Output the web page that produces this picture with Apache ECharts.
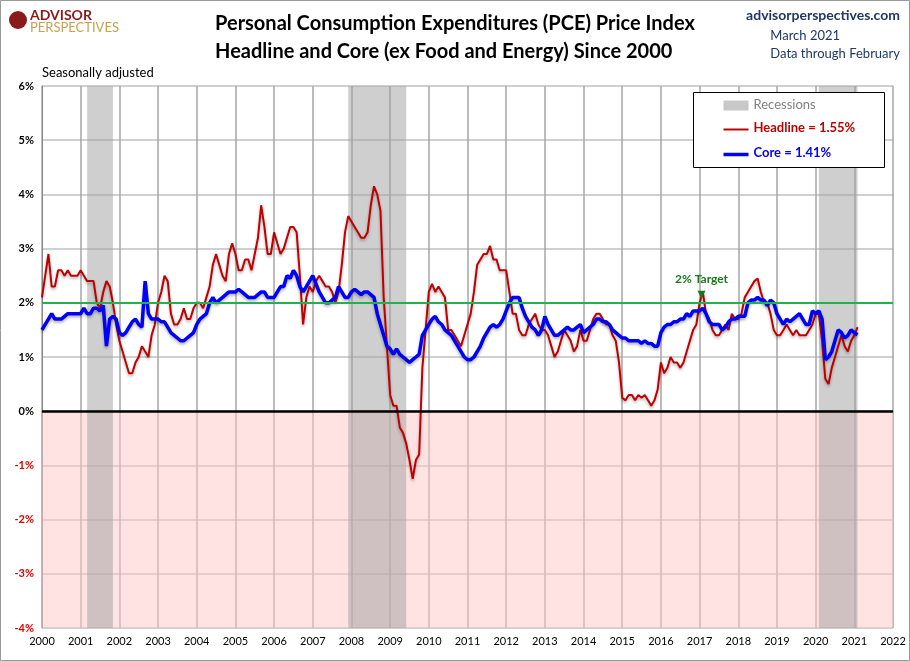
<!DOCTYPE html>
<html><head><meta charset="utf-8">
<script src="https://cdn.jsdelivr.net/npm/echarts@6/dist/echarts.min.js"></script>
<style>html,body{margin:0;padding:0;background:#fff}#c{width:910px;height:661px}</style>
</head><body><div id="c"></div>
<script>
const startYear = 2000;
const headline = [
2.1,2.5,2.9,2.3,2.3,2.6,2.6,2.5,2.6,2.5,2.5,2.5,
2.6,2.5,2.4,2.4,2.4,2.0,1.9,2.2,2.4,2.3,2.0,1.6,
1.3,1.1,0.9,0.7,0.7,0.9,1.0,1.2,1.1,1.0,1.4,1.6,
2.0,2.2,2.5,2.4,1.8,1.6,1.6,1.7,1.9,1.7,1.7,1.9,
2.0,2.0,1.9,2.1,2.3,2.7,2.9,2.7,2.5,2.4,2.9,3.1,
2.9,2.6,2.6,2.8,2.8,2.6,2.9,3.2,3.8,3.4,2.9,2.9,
3.3,3.1,2.9,3.0,3.2,3.4,3.4,3.3,2.5,1.6,2.1,2.3,
2.2,2.4,2.5,2.4,2.3,2.3,2.2,2.0,2.2,2.7,3.3,3.6,
3.5,3.4,3.3,3.2,3.2,3.3,3.8,4.15,4.0,3.7,2.1,1.2,
0.3,0.1,0.1,-0.3,-0.4,-0.6,-0.9,-1.25,-0.9,-0.8,0.8,1.5,
2.2,2.35,2.2,2.3,2.2,2.1,1.5,1.5,1.4,1.3,1.2,1.4,
1.6,1.8,2.2,2.7,2.8,2.9,2.9,3.05,2.8,2.8,2.6,2.6,
2.6,2.2,1.8,1.8,1.5,1.4,1.4,1.6,1.7,1.8,1.6,1.5,
1.5,1.4,1.2,1.0,1.1,1.3,1.5,1.4,1.3,1.1,1.2,1.5,
1.3,1.3,1.5,1.7,1.8,1.8,1.7,1.6,1.6,1.4,1.3,0.9,
0.25,0.2,0.3,0.3,0.2,0.3,0.25,0.3,0.2,0.1,0.2,0.4,
0.9,0.7,0.8,1.0,0.9,0.9,0.8,0.9,1.1,1.3,1.5,1.6,
2.0,2.2,1.8,1.7,1.5,1.4,1.4,1.5,1.6,1.5,1.8,1.7,
1.7,1.8,2.1,2.2,2.3,2.4,2.45,2.2,2.0,2.0,1.8,1.5,
1.4,1.4,1.5,1.6,1.5,1.4,1.5,1.4,1.4,1.4,1.5,1.6,
1.8,1.8,1.3,0.6,0.5,0.8,1.0,1.2,1.4,1.2,1.1,1.3,
1.4,1.55];
const core = [
1.5,1.6,1.7,1.8,1.7,1.7,1.7,1.75,1.8,1.8,1.8,1.8,
1.8,1.9,1.8,1.8,1.9,1.9,1.85,1.95,1.2,1.7,1.75,1.7,
1.45,1.4,1.45,1.55,1.65,1.7,1.6,1.55,2.4,1.8,1.7,1.7,
1.7,1.65,1.65,1.55,1.45,1.4,1.35,1.3,1.3,1.35,1.4,1.45,
1.6,1.7,1.75,1.8,2.0,2.1,2.0,2.05,2.1,2.15,2.2,2.2,
2.2,2.25,2.2,2.15,2.1,2.1,2.1,2.15,2.2,2.2,2.1,2.1,
2.1,2.2,2.3,2.3,2.5,2.45,2.6,2.5,2.3,2.2,2.3,2.4,
2.5,2.35,2.2,2.1,2.0,2.0,2.05,2.1,2.3,2.2,2.1,2.1,
2.2,2.25,2.2,2.15,2.2,2.2,2.15,2.1,1.8,1.6,1.4,1.2,
1.15,1.05,1.15,1.05,1.0,0.95,0.9,0.95,1.0,1.05,1.4,1.5,
1.6,1.7,1.75,1.65,1.6,1.5,1.45,1.4,1.3,1.2,1.1,1.0,
0.95,0.95,1.0,1.1,1.2,1.35,1.45,1.55,1.6,1.55,1.6,1.7,
1.85,2.0,2.1,2.1,2.1,1.9,1.75,1.65,1.55,1.5,1.4,1.5,
1.75,1.6,1.5,1.4,1.4,1.45,1.5,1.55,1.5,1.5,1.55,1.6,
1.45,1.5,1.55,1.6,1.7,1.7,1.65,1.65,1.6,1.5,1.45,1.4,
1.35,1.35,1.3,1.3,1.3,1.3,1.25,1.3,1.25,1.25,1.2,1.2,
1.45,1.55,1.6,1.6,1.65,1.65,1.7,1.7,1.8,1.75,1.85,1.85,
1.85,1.9,1.8,1.65,1.6,1.6,1.6,1.5,1.55,1.65,1.7,1.7,
1.75,1.75,1.75,2.0,2.05,2.05,2.1,2.05,2.05,1.95,2.05,2.0,
1.8,1.7,1.6,1.7,1.65,1.7,1.75,1.8,1.7,1.6,1.6,1.85,
1.8,1.85,1.7,0.95,1.0,1.1,1.3,1.5,1.45,1.35,1.4,1.5,
1.45,1.41];
const recessions = [['2001-03','2001-11'],['2007-12','2009-06'],['2020-02','2021-02']];

function toX(i){ return startYear + i/12; }
function ym(s){ const [y,m]=s.split('-').map(Number); return y+(m-1)/12; }
const hData = headline.map((v,i)=>[toX(i),v]);
const cData = core.map((v,i)=>[toX(i),v]);

const chart = echarts.init(document.getElementById('c'));
const F = 'Lato, "Open Sans", Arial, sans-serif';
chart.setOption({
  animation:false,
  grid:{left:42,right:17,top:86,bottom:33},
  xAxis:{type:'value',min:2000,max:2022,interval:1,
    axisLabel:{color:'#000',fontSize:11,fontFamily:F,formatter:v=>String(v)},
    axisLine:{lineStyle:{color:'#888'}},axisTick:{show:false},
    splitLine:{show:true,lineStyle:{color:'#a6a6a6',width:1.5}}},
  yAxis:{type:'value',min:-4,max:6,interval:1,
    axisLabel:{fontSize:11,fontWeight:'bold',fontFamily:F,formatter:v=>v+'%',
      color:v=>v<0?'#e00000':'#000'},
    axisLine:{show:true,lineStyle:{color:'#888'}},axisTick:{show:false},
    splitLine:{lineStyle:{color:'#c0c0c0',width:1.5}}},
  series:[
    {type:'line',name:'bg',data:[],silent:true,
      markArea:{silent:true,data:[
        [{yAxis:-4,itemStyle:{color:'rgba(255,200,200,0.5)'}},{yAxis:0}],
        ...recessions.map(r=>[{xAxis:ym(r[0]),itemStyle:{color:'rgba(160,160,160,0.5)'}},{xAxis:ym(r[1])}])
      ]},
      markLine:{silent:true,symbol:'none',label:{show:false},data:[
        {yAxis:0,lineStyle:{color:'#000',width:2.5,type:'solid'}},
        {yAxis:2,lineStyle:{color:'#22b14c',width:2,type:'solid'}}
      ]}},
    {type:'line',name:'Headline',data:hData,showSymbol:false,z:3,
      lineStyle:{color:'#c00000',width:2,shadowColor:'rgba(0,0,0,0.3)',shadowBlur:3,shadowOffsetY:2}},
    {type:'line',name:'Core',data:cData,showSymbol:false,z:4,
      lineStyle:{color:'#0000ff',width:3.5,shadowColor:'rgba(0,0,0,0.3)',shadowBlur:3,shadowOffsetY:2},
      markPoint:{symbol:'triangle',symbolRotate:180,symbolSize:8,itemStyle:{color:'#1a7a1a'},
        data:[{coord:[2017.05,2.15],label:{show:true,position:'top',distance:6,formatter:'2% Target',
          color:'#1a7a1a',fontWeight:'bold',fontSize:12,fontFamily:F}}]}}
  ],
  graphic:[
    {type:'rect',shape:{x:0.5,y:0.5,width:909,height:660},style:{fill:'none',stroke:'#999'}},
    {type:'text',left:'center',top:10,style:{text:'Personal Consumption Expenditures (PCE) Price Index\nHeadline and Core (ex Food and Energy) Since 2000',
      font:'bold 20px '+F,fill:'#000',align:'center',lineHeight:28}},
    {type:'text',right:10,top:8,style:{text:'advisorperspectives.com',font:'bold 14px '+F,fill:'#1f3864',align:'right'}},
    {type:'text',right:10,top:27,style:{text:'March 2021\nData through February',font:'13px '+F,fill:'#1f3864',align:'right',lineHeight:18}},
    {type:'text',left:30,top:8,style:{text:'ADVISOR',font:'bold 14px '+F,fill:'#8b1a1a'}},
    {type:'text',left:30,top:21,style:{text:'PERSPECTIVES',font:'13px '+F,fill:'#c8a050'}},
    {type:'circle',shape:{cx:18,cy:20,r:9},style:{fill:'#8b1a1a'}},
    {type:'text',left:42,top:66,style:{text:'Seasonally adjusted',font:'13px '+F,fill:'#000'}},
    {type:'group',left:693,top:92,z:100,children:[
      {type:'rect',z:100,shape:{x:0,y:0,width:191,height:75},style:{fill:'#fff',stroke:'#000',lineWidth:1}},
      {type:'rect',z:101,shape:{x:30,y:8,width:25,height:10},style:{fill:'#c8c8c8'}},
      {type:'text',z:101,x:60,y:6,style:{text:'Recessions',font:'13px '+F,fill:'#808080'}},
      {type:'line',z:101,shape:{x1:30,y1:37,x2:55,y2:37},style:{stroke:'#c00000',lineWidth:2}},
      {type:'text',z:101,x:60,y:29,style:{text:'Headline = 1.55%',font:'bold 13px '+F,fill:'#c00000'}},
      {type:'line',z:101,shape:{x1:30,y1:62,x2:55,y2:62},style:{stroke:'#0000ff',lineWidth:3.5}},
      {type:'text',z:101,x:60,y:54,style:{text:'Core = 1.41%',font:'bold 13px '+F,fill:'#0000ff'}}
    ]}
  ]
});
</script></body></html>
